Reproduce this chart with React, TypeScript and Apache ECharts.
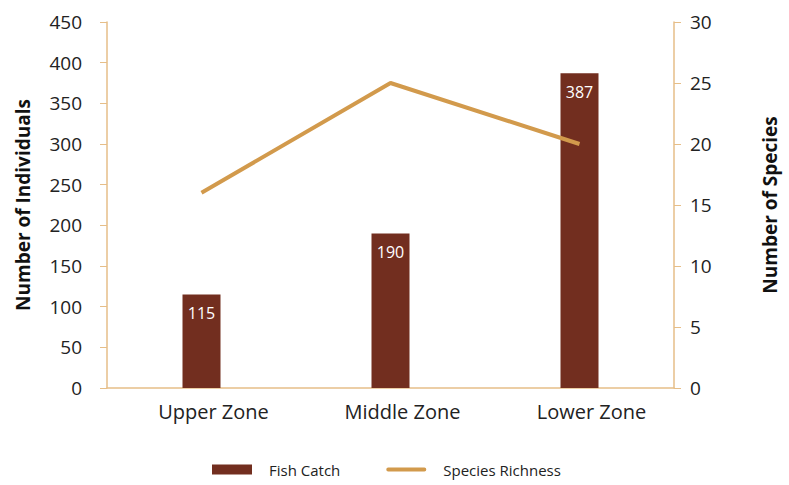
import React, { useEffect, useRef } from "react";
import * as echarts from "echarts";

const categories = ["Upper Zone", "Middle Zone", "Lower Zone"];
const fishCatch = [115, 190, 387];
const speciesRichness = [16, 25, 20];
const leftTicks = { min: 0, max: 450, interval: 50 };
const rightTicks = { min: 0, max: 30, interval: 5 };

const FONT = "'Open Sans', 'Noto Sans', sans-serif";
const AXIS_COLOR = "#E6BE88";
const BAR_COLOR = "#722E1F";
const LINE_COLOR = "#D29A4C";

export default function App() {
  const ref = useRef<HTMLDivElement>(null);
  useEffect(() => {
    if (!ref.current) return;
    const chart = echarts.init(ref.current, null, { renderer: "svg" });
    chart.setOption({
      animation: false,
      backgroundColor: "#ffffff",
      textStyle: { fontFamily: FONT },
      grid: { left: 107, right: 115, top: 22, bottom: 97 },
      legend: {
        top: 462,
        left: 212,
        padding: 0,
        itemGap: 46,
        itemWidth: 40,
        itemHeight: 10,
        textStyle: { fontSize: 15, color: "#222", fontFamily: FONT, padding: [0, 0, 0, 12] },
        data: [
          { name: "Fish Catch", icon: "rect" },
          { name: "Species Richness", icon: "path://M2,0 L40,0 A2,2 0 0 1 40,4 L2,4 A2,2 0 0 1 2,0 Z" },
        ],
      },
      xAxis: {
        type: "category",
        data: categories,
        axisLine: { lineStyle: { color: AXIS_COLOR, width: 1.5 } },
        axisTick: { show: false },
        axisLabel: {
          fontSize: 20,
          color: "#222",
          margin: 13,
          fontFamily: FONT,
          padding: [0, 0, 0, 24],
        },
      },
      yAxis: [
        {
          type: "value",
          ...leftTicks,
          name: "Number of Individuals",
          nameLocation: "middle",
          nameGap: 75,
          nameTextStyle: { fontSize: 19, fontWeight: "bold", color: "#111", fontFamily: FONT },
          axisLine: { show: true, lineStyle: { color: AXIS_COLOR, width: 1.5 } },
          axisTick: { show: true, length: 7, lineStyle: { color: AXIS_COLOR } },
          axisLabel: { fontSize: 19, color: "#222", margin: 25, fontFamily: FONT },
          splitLine: { show: false },
        },
        {
          type: "value",
          ...rightTicks,
          position: "right",
          name: "Number of Species",
          nameLocation: "middle",
          nameGap: 86,
          nameRotate: 90,
          nameTextStyle: { fontSize: 19, fontWeight: "bold", color: "#111", fontFamily: FONT },
          axisLine: { show: true, lineStyle: { color: AXIS_COLOR, width: 1.5 } },
          axisTick: { show: true, length: 7, lineStyle: { color: AXIS_COLOR } },
          axisLabel: { fontSize: 19, color: "#222", margin: 16, fontFamily: FONT },
          splitLine: { show: false },
        },
      ],
      series: [
        {
          name: "Fish Catch",
          type: "bar",
          data: fishCatch,
          yAxisIndex: 0,
          barWidth: 38,
          itemStyle: { color: BAR_COLOR },
          label: {
            show: true,
            position: "insideTop",
            distance: 11,
            color: "#ffffff",
            fontSize: 16,
            fontFamily: FONT,
          },
        },
        {
          name: "Species Richness",
          type: "line",
          data: speciesRichness,
          yAxisIndex: 1,
          showSymbol: false,
          symbol: "none",
          itemStyle: { color: LINE_COLOR },
          lineStyle: { color: LINE_COLOR, width: 4 },
        },
      ],
    });
    return () => chart.dispose();
  }, []);
  return (
    <div
      ref={ref}
      style={{ position: "fixed", left: 0, top: 0, width: 789, height: 485 }}
    />
  );
}
